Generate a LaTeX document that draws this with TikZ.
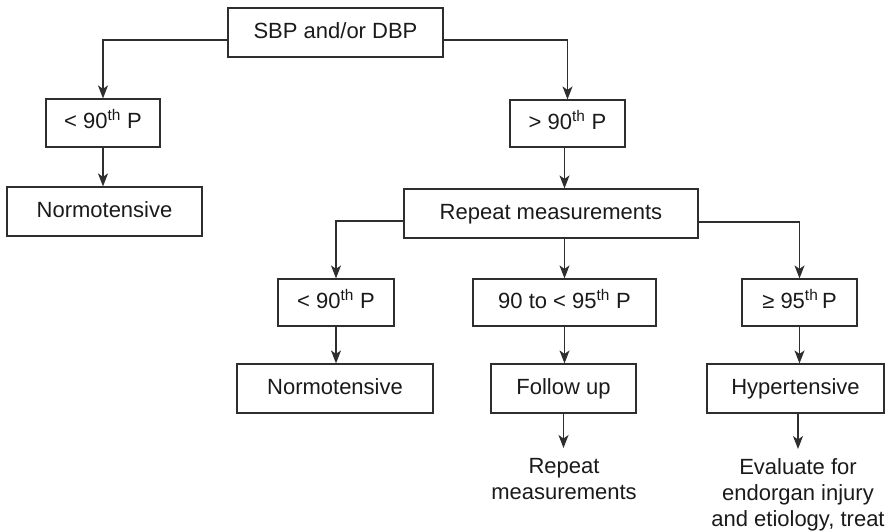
\documentclass[tikz,border=0pt]{standalone}
\usepackage{fontspec}
\setmainfont{Liberation Sans}
\usetikzlibrary{arrows.meta}
\definecolor{linec}{HTML}{2E2E2E}
\definecolor{textc}{HTML}{1A1A1A}
\begin{document}
\begin{tikzpicture}[x=1pt,y=-1pt,
  every node/.style={font=\fontsize{22}{26}\selectfont},
  box/.style={draw=linec, line width=1.2pt, rectangle, inner sep=0pt,
    text height=16pt, text depth=5pt, text=textc},
  conn/.style={draw=linec, line width=1.2pt,
    -{Stealth[length=13pt,width=10pt,inset=3.5pt]}},
  lbl/.style={inner sep=0pt, outer ysep=10pt, align=center, anchor=north, text=textc}]
\useasboundingbox (0,0) rectangle (886,531);

\node[box, minimum width=215pt, minimum height=49pt] (sbp) at (335.5,32.5) {SBP and/or DBP};
\node[box, minimum width=114pt, minimum height=48pt] (lta) at (103,123) {< 90\textsuperscript{th} P};
\node[box, minimum width=195pt, minimum height=49pt] (norma) at (104.5,211.5) {Normotensive};
\node[box, minimum width=115pt, minimum height=47pt] (gt) at (567.5,123.5) {> 90\textsuperscript{th} P};
\node[box, minimum width=294pt, minimum height=49pt] (rep) at (551,213.5) {Repeat measurements};
\node[box, minimum width=116pt, minimum height=47pt] (ltb) at (336,302.5) {< 90\textsuperscript{th} P};
\node[box, minimum width=183pt, minimum height=47pt] (mid) at (564.5,302.5) {90 to < 95\textsuperscript{th} P};
\node[box, minimum width=115pt, minimum height=47pt] (ge) at (799.5,302.5) {≥ 95\textsuperscript{th}\,P};
\node[box, minimum width=196pt, minimum height=49pt] (normb) at (335,388.5) {Normotensive};
\node[box, minimum width=145pt, minimum height=49pt] (fol) at (563.5,388.5) {Follow up};
\node[box, minimum width=177pt, minimum height=49pt] (hyp) at (795.5,388.5) {Hypertensive};
\node[lbl] (rtxt) at (564,448) {Repeat\\measurements};
\node[lbl] (etxt) at (798,449) {Evaluate for\\endorgan injury\\and etiology, treat};

\draw[conn] ([yshift=-7.5pt]sbp.west) -| (lta.north);
\draw[conn] ([yshift=-7.5pt]sbp.east) -| (gt.north);
\draw[conn] (lta.south) -- (lta.south |- norma.north);
\draw[conn] ([xshift=-3pt]gt.south) -- ([xshift=-3pt]gt.south |- rep.north);
\draw[conn] ([yshift=-7.5pt]rep.west) -| (ltb.north);
\draw[conn] ([yshift=-8.5pt]rep.east) -| (ge.north);
\draw[conn] (mid.north |- rep.south) -- (mid.north);
\draw[conn] (ltb.south) -- (ltb.south |- normb.north);
\draw[conn] (mid.south) -- (mid.south |- fol.north);
\draw[conn] (ge.south) -- (ge.south |- hyp.north);
\draw[conn] (fol.south) -- (fol.south |- rtxt.north);
\draw[conn] (hyp.south -| etxt.north) -- (etxt.north);
\end{tikzpicture}
\end{document}
